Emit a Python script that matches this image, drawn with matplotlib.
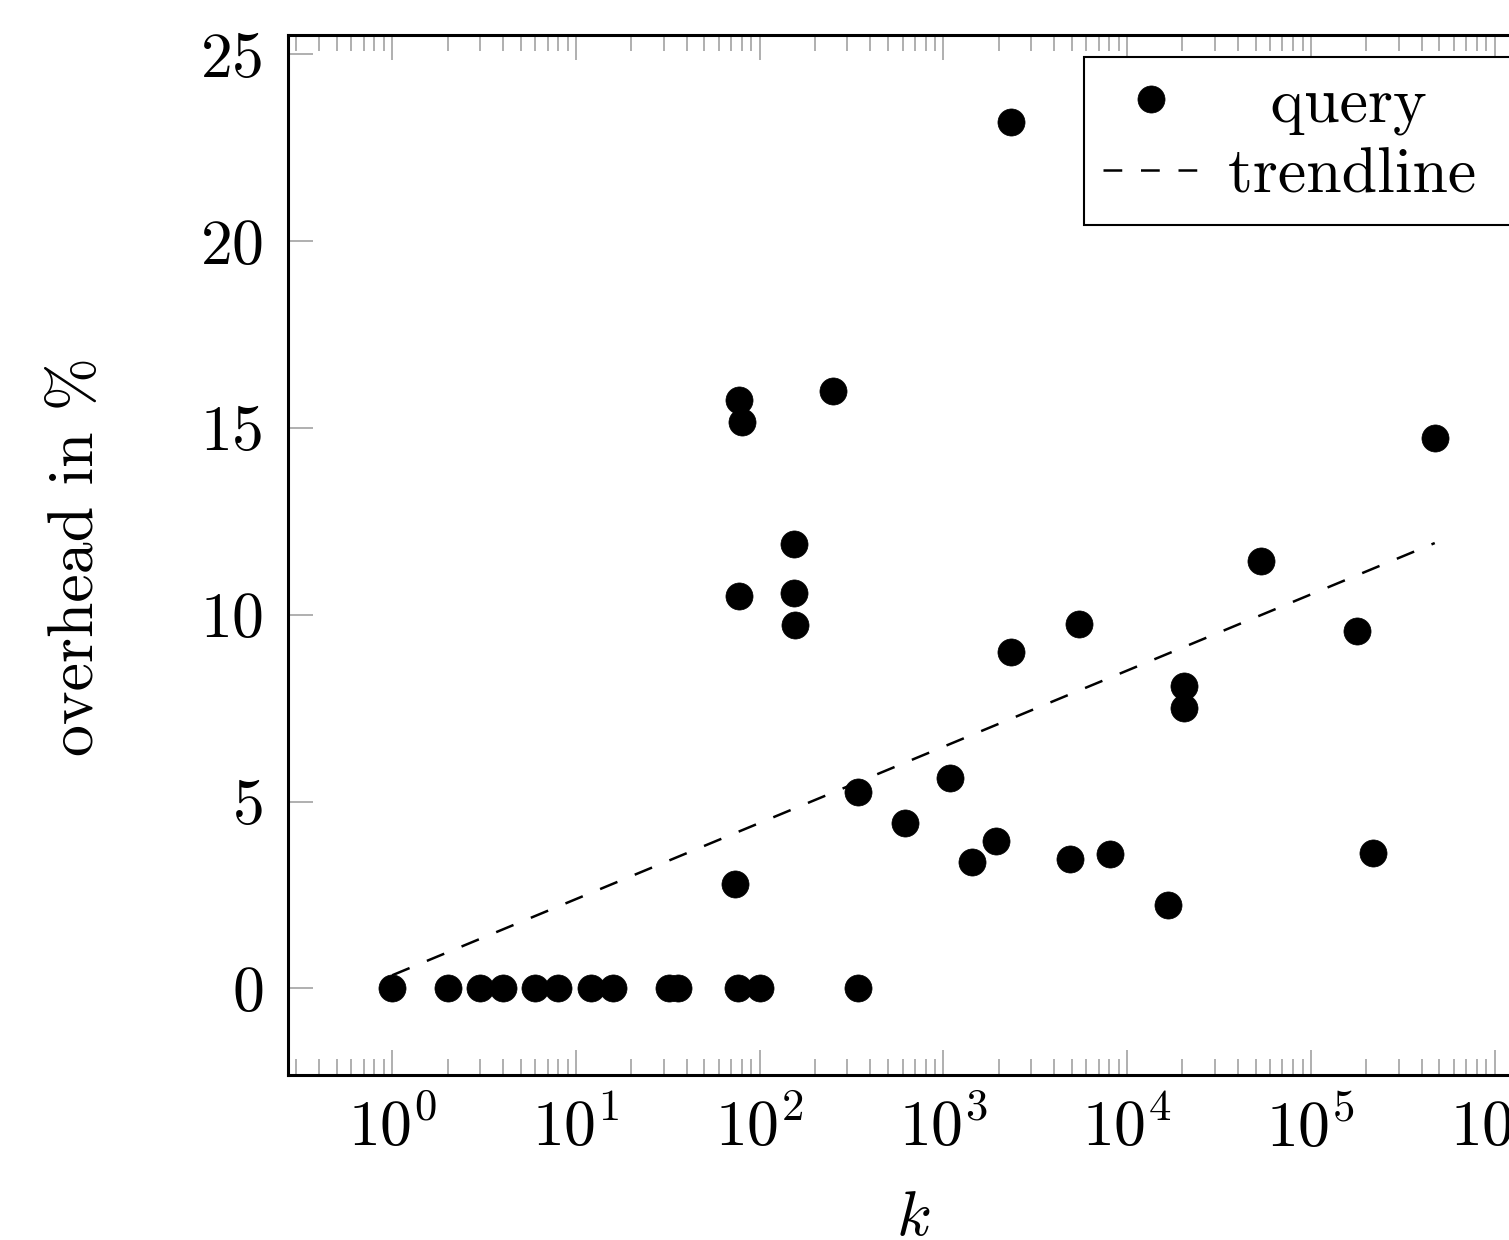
import numpy as np
import matplotlib
matplotlib.use("Agg")
from matplotlib import pyplot as plt
from matplotlib.ticker import LogLocator, NullFormatter

plt.rcParams['font.family'] = 'cmr10'
plt.rcParams['mathtext.fontset'] = 'cm'
plt.rcParams['axes.formatter.use_mathtext'] = True
plt.rcParams['lines.scale_dashes'] = False

# query points (k, overhead in %)
k = [1, 2, 3, 4, 6, 8, 12, 16, 32, 36, 76, 100, 341,
     73, 77, 80, 77, 153, 153, 155, 249, 341, 621, 1079, 1438, 1942,
     2343, 2343, 4898, 5483, 8087, 16700, 20400, 20400, 53500,
     177800, 217000, 472000]
overhead = [0, 0, 0, 0, 0, 0, 0, 0, 0, 0, 0, 0, 0,
            2.79, 15.76, 15.17, 10.5, 11.9, 10.58, 9.73, 16.0, 5.25, 4.42, 5.63, 3.38, 3.94,
            23.2, 9.0, 3.46, 9.75, 3.59, 2.22, 8.09, 7.50, 11.44,
            9.57, 3.62, 14.74]

# trendline end points
trend_k = [1, 472000]
trend_y = [0.35, 11.92]

yticks = [0, 5, 10, 15, 20, 25]

fs = 46
W, H = 1509, 1240
fig = plt.figure(figsize=(W / 100, H / 100), dpi=100)
# axes runs past the right edge, like the cropped reference
ax = fig.add_axes([288 / W, (H - 1075) / H, (1539 - 288) / W, (1075 - 35) / H])

ax.plot(k, overhead, 'o', color='black', markersize=19.5, markeredgewidth=0.5,
        label='  query', zorder=3)
ax.plot(trend_k, trend_y, color='black', linewidth=1.8, dashes=(13.5, 13.5),
        label='trendline ', zorder=2)

ax.set_xscale('log')
lk = np.log10(k)
span = lk.max() - lk.min()
ax.set_xlim(10 ** (lk.min() - 0.1 * span), 10 ** (lk.max() + 0.1 * span))
yr = max(overhead) - min(overhead)
ax.set_ylim(min(overhead) - 0.1 * yr, max(overhead) + 0.1 * yr)

ax.xaxis.set_major_locator(LogLocator(base=10, numticks=20))
ax.xaxis.set_minor_locator(LogLocator(base=10, subs=np.arange(2, 10), numticks=20))
ax.xaxis.set_minor_formatter(NullFormatter())
ax.set_yticks(yticks)

for s in ax.spines.values():
    s.set_linewidth(2.2)

ax.tick_params(which='both', direction='in', top=True, right=True,
               color='#9a9a9a', width=1.1, labelsize=fs)
ax.tick_params(which='major', length=18)
ax.tick_params(which='minor', length=11.5)
ax.tick_params(axis='x', which='major', pad=17)
ax.tick_params(axis='y', which='major', pad=18)

fig.text(77 / W, 1 - 557 / H, 'overhead in %', rotation=90, ha='center', va='center',
         fontsize=fs)
fig.text(913 / W, 1 - 1235 / H, '$k$', ha='center', va='baseline', fontsize=fs)

leg = ax.legend(loc='upper right', bbox_to_anchor=(1, 1), fontsize=fs,
                borderaxespad=0.35, fancybox=False, edgecolor='black', framealpha=1,
                handlelength=1.5, handletextpad=0.45, borderpad=0.3, labelspacing=0.2)
leg.get_frame().set_linewidth(1.5)

fig.savefig('out.png', dpi=100)
